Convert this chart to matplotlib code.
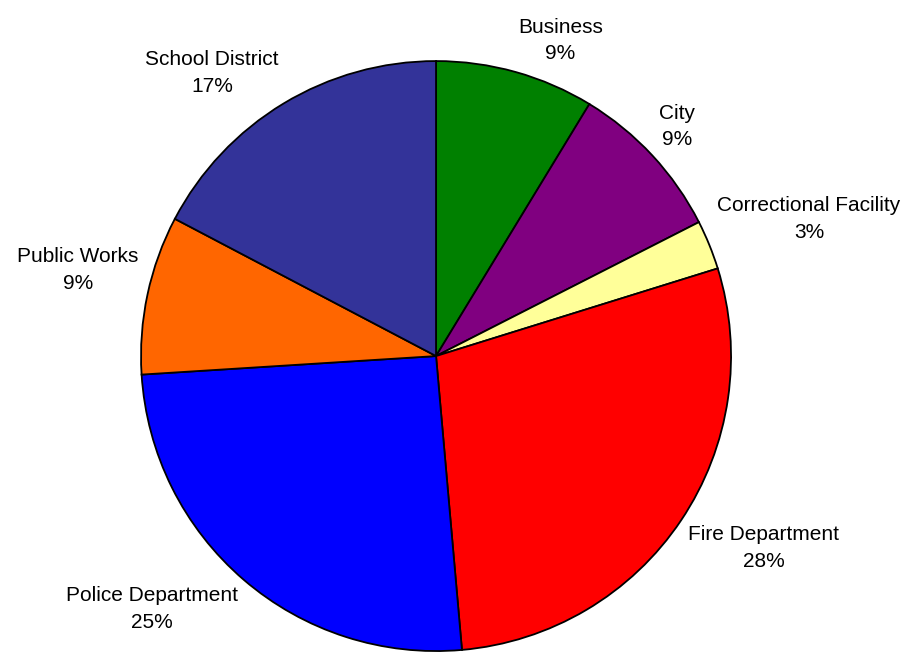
import numpy as np
import matplotlib
matplotlib.use("Agg")
import matplotlib.pyplot as plt

categories = ["Business", "City", "Correctional Facility", "Fire Department",
              "Police Department", "Public Works", "School District"]
shares = [8.7, 8.8, 2.7, 28.4, 25.4, 8.7, 17.3]
colors = ["#008000", "#800080", "#FFFF99", "#FF0000", "#0000FF", "#FF6600", "#333399"]

plt.rcParams['font.family'] = ['Liberation Sans', 'DejaVu Sans']

fig = plt.figure(figsize=(9.06, 6.54), dpi=100)
ax = fig.add_axes([0, 0, 1, 1])
wedges, _ = ax.pie(shares, colors=colors, startangle=90, counterclock=False,
                   wedgeprops=dict(edgecolor='black', linewidth=1.3))
ax.set_aspect('auto')
ax.set_xlim(-1.478, 1.593)
ax.set_ylim(-1.010, 1.207)

fig.canvas.draw()
renderer = fig.canvas.get_renderer()
ppu = ax.transData.transform((1, 0))[0] - ax.transData.transform((0, 0))[0]

# label box: its corner nearest the pie sits on the wedge's middle ray
for w, name, v in zip(wedges, categories, shares):
    ang = np.deg2rad((w.theta1 + w.theta2) / 2)
    ux, uy = np.cos(ang), np.sin(ang)
    t = ax.text(0, 0, f"{name}\n{v:.0f}%", ha='center', va='center',
                fontsize=15, linespacing=1.5)
    bb = t.get_window_extent(renderer)
    hw = bb.width / 2 / ppu
    hh = bb.height / 2 / ppu
    d = 1.03
    t.set_position((d * ux + np.sign(ux) * hw, d * uy + np.sign(uy) * hh))

fig.savefig("out.png", dpi=100)
